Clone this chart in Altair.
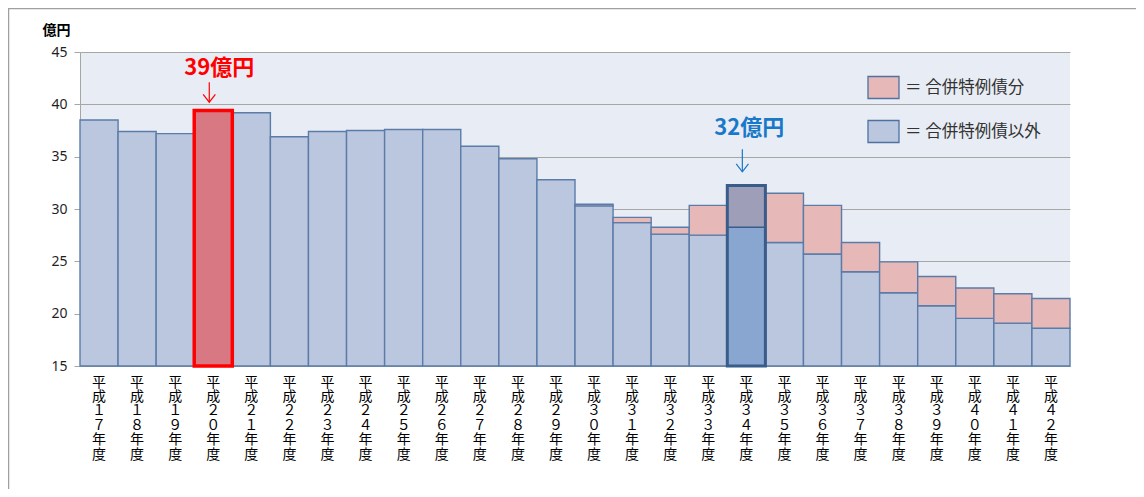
import altair as alt
import pandas as pd

# ---------------- data ----------------
years = ["平成１７年度", "平成１８年度", "平成１９年度", "平成２０年度", "平成２１年度",
         "平成２２年度", "平成２３年度", "平成２４年度", "平成２５年度", "平成２６年度",
         "平成２７年度", "平成２８年度", "平成２９年度", "平成３０年度", "平成３１年度",
         "平成３２年度", "平成３３年度", "平成３４年度", "平成３５年度", "平成３６年度",
         "平成３７年度", "平成３８年度", "平成３９年度", "平成４０年度", "平成４１年度",
         "平成４２年度"]
# 合併特例債以外 (億円)
base_vals = [38.5, 37.4, 37.2, 39.4, 39.2, 36.9, 37.4, 37.5, 37.6, 37.6,
             36.0, 34.8, 32.8, 30.3, 28.7, 27.6, 27.5, 28.25, 26.8, 25.7,
             24.0, 22.0, 20.75, 19.55, 19.1, 18.6]
# 合併特例債分 (億円)
merger_vals = [0, 0, 0, 0, 0, 0, 0, 0, 0, 0,
               0, 0, 0, 0.15, 0.5, 0.65, 2.85, 4.0, 4.7, 4.65,
               2.8, 2.95, 2.8, 2.9, 2.8, 2.85]
series_names = ["合併特例債分", "合併特例債以外"]
y_ticks = [15, 20, 25, 30, 35, 40, 45]
y_min, y_max = 15, 45

highlight_red = "平成２０年度"
highlight_blue = "平成３４年度"
ann_labels = ["39億円", "32億円"]
ann_text_y = [43.5, 37.75]
ann_arrow_top = [42.1, 35.7]
ann_arrow_tip = [40.2, 33.55]

# ---------------- tables ----------------
rows = []
for yr, b, m in zip(years, base_vals, merger_vals):
    rows.append(dict(year=yr, series="合併特例債以外", lo=y_min, hi=b))
    if m > 0:
        rows.append(dict(year=yr, series="合併特例債分", lo=b, hi=round(b + m, 3)))
df = pd.DataFrame(rows)
tot = pd.DataFrame(dict(year=years, lo=[y_min] * len(years),
                        total=[round(b + m, 3) for b, m in zip(base_vals, merger_vals)]))

JP = "Noto Sans CJK JP"

x_axis = alt.Axis(title=None, labelExpr="split(datum.label, '')", labelAngle=0,
                  labelAlign="center", labelBaseline="top", labelLineHeight=14.4,
                  labelFont=JP, labelFontSize=14, labelColor="#000000", labelPadding=9,
                  ticks=False, domainColor="#A6A6A6", domainWidth=1, grid=False)
y_axis = alt.Axis(values=y_ticks, title="億円", titleAngle=0, titleAlign="center",
                  titleBaseline="middle", titleX=-24, titleY=-22, titleFont=JP,
                  titleFontSize=14, titleFontWeight="bold", titleColor="#000000",
                  labelFont="Noto Sans", labelFontSize=14, labelColor="#1F1F1F",
                  labelPadding=7, tickSize=6, tickColor="#A6A6A6", domainColor="#A6A6A6",
                  grid=True, gridColor="#A6A6A6", gridWidth=1)

x_enc = alt.X("year:N", sort=years, scale=alt.Scale(paddingInner=0, paddingOuter=0), axis=x_axis)
x_plain = alt.X("year:N", sort=years)
y_scale = alt.Scale(domain=[y_min, y_max], nice=False, zero=False)

bars = alt.Chart(df).mark_bar(stroke="#5B7CA8", strokeWidth=1.4).encode(
    x=x_enc,
    y=alt.Y("hi:Q", scale=y_scale, axis=y_axis),
    y2="lo:Q",
    fill=alt.Fill("series:N",
                  scale=alt.Scale(domain=series_names, range=["#E6B8B7", "#BBC7DF"]),
                  legend=alt.Legend(
                      title=None, orient="none", legendX=787, legendY=19,
                      symbolType="M-1,-0.71L1,-0.71L1,0.71L-1,0.71Z", symbolSize=961,
                      symbolStrokeColor="#4F72A0", symbolStrokeWidth=1.3,
                      labelFont=JP, labelFontSize=16.5, labelColor="#333333",
                      labelOffset=5, rowPadding=13, padding=0, labelLimit=300,
                      labelExpr="datum.label == '合併特例債分' ? '＝ 合併特例債分' : ' ＝ 合併特例債以外'")),
)

# highlighted 平成20年度
h20 = alt.Chart(tot).transform_filter(alt.datum.year == highlight_red).mark_bar(
    fill="#D87882", stroke="#FF0000", strokeWidth=3.5
).encode(x=x_plain, y="total:Q", y2="lo:Q")

# highlighted 平成34年度
h34_seg = alt.Chart(df).transform_filter(alt.datum.year == highlight_blue).mark_bar(
    stroke="#385D8A", strokeWidth=1.4
).encode(
    x=x_plain, y="hi:Q", y2="lo:Q",
    fill=alt.condition(alt.datum.series == "合併特例債分", alt.value("#9E9EB9"), alt.value("#88A6CF")),
)
h34_out = alt.Chart(tot).transform_filter(alt.datum.year == highlight_blue).mark_bar(
    fillOpacity=0, fill="#ffffff", stroke="#385D8A", strokeWidth=3
).encode(x=x_plain, y="total:Q", y2="lo:Q")

# annotations
ann_colors = ["#FF0000", "#1A78C8"]
ann_years = [highlight_red, highlight_blue]
ann_dx = [6, 3]
layers = [bars, h20, h34_seg, h34_out]
for yr, lab, ty, at, ap, col, dx in zip(ann_years, ann_labels, ann_text_y,
                                         ann_arrow_top, ann_arrow_tip, ann_colors, ann_dx):
    adf = pd.DataFrame(dict(year=[yr], label=[lab], ty=[ty], top=[at], tip=[ap]))
    base = alt.Chart(adf)
    layers.append(base.mark_text(font=JP, fontSize=22, fontWeight="bold", color=col, dx=dx,
                                 baseline="middle").encode(x=x_plain, y="ty:Q", text="label:N"))
    layers.append(base.mark_rule(color=col, strokeWidth=1.2, xOffset=-4).encode(
        x=x_plain, y="top:Q", y2="tip:Q"))
    layers.append(base.mark_point(shape="M-1,-1.3L0,0L1,-1.3", filled=False, size=150,
                                  color=col, strokeWidth=1.2, opacity=1, xOffset=-4).encode(
        x=x_plain, y="tip:Q"))

# outer frame lines (decoration)
frame_df = pd.DataFrame(dict(k=[0]))
frame_top = alt.Chart(frame_df).mark_rule(color="#A0A0A0", strokeWidth=1.5).encode(
    x=alt.value(-72), x2=alt.value(1056), y=alt.value(-43.5))
frame_left = alt.Chart(frame_df).mark_rule(color="#A0A0A0", strokeWidth=1.5).encode(
    x=alt.value(-71.5), y=alt.value(-44), y2=alt.value(437))
layers += [frame_top, frame_left]

chart = alt.layer(*layers).properties(
    width=990, height=314,
    autosize=alt.AutoSizeParams(type="none"),
    padding={"left": 72, "top": 44, "right": 66, "bottom": 123},
    background="#FFFFFF",
).configure_view(fill="#E8ECF4", stroke=None)

chart.save("out.html", embed_options={"renderer": "svg", "actions": False})
